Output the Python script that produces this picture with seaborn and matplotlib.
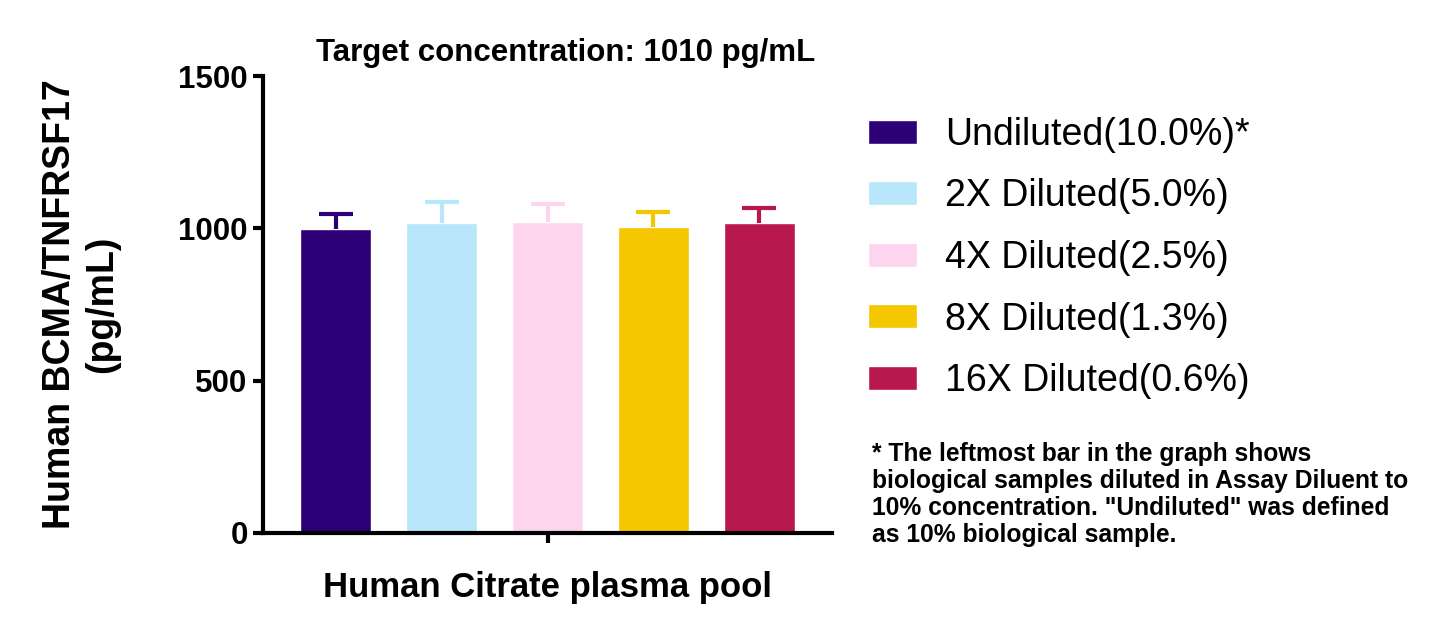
import matplotlib
matplotlib.use("Agg")
import matplotlib.pyplot as plt
import pandas as pd
import seaborn as sns

sample = ["Human Citrate plasma pool"]
dilutions = [
    "Undiluted(10.0%)*",
    "2X Diluted(5.0%)",
    "4X Diluted(2.5%)",
    "8X Diluted(1.3%)",
    "16X Diluted(0.6%)",
]
means = [998, 1017, 1021, 1003, 1017]
errors = [50, 71, 59, 52, 50]
colors = ["#2E0078", "#B8E6FA", "#FDD5EE", "#F5C700", "#B8184E"]

title = "Target concentration: 1010 pg/mL"
ylabel = "Human BCMA/TNFRSF17\n(pg/mL)"
footnote = ('* The leftmost bar in the graph shows\n'
            'biological samples diluted in Assay Diluent to\n'
            '10% concentration. "Undiluted" was defined\n'
            'as 10% biological sample.')

df = pd.DataFrame({"sample": sample * len(dilutions), "dilution": dilutions,
                   "value": means, "err": errors})

sns.set_theme(style="ticks")
plt.rcParams["font.family"] = ["Liberation Sans", "DejaVu Sans"]
plt.rcParams["text.color"] = "black"
plt.rcParams["axes.labelcolor"] = "black"
plt.rcParams["xtick.color"] = "black"
plt.rcParams["ytick.color"] = "black"

fig = plt.figure(figsize=(14.45, 6.35), dpi=100)
ax = fig.add_axes([263 / 1445, 1 - 533 / 635, (832 - 263) / 1445, (533 - 76) / 635])

sns.barplot(data=df, x="sample", y="value", hue="dilution", palette=colors,
            hue_order=dilutions, errorbar=None, width=0.8, gap=0.33,
            saturation=1, ax=ax)

# one-sided (upper) error bars in bar colour
for cont, m, e, c in zip(ax.containers, means, errors, colors):
    bar = cont[0]
    xc = bar.get_x() + bar.get_width() / 2
    _, caps, _ = ax.errorbar(xc, m, yerr=[[0], [e]], color=c, elinewidth=3,
                             capsize=12.5, capthick=3, zorder=1)
    caps[0].set_visible(False)

ax.set_ylim(0, 1500)
ax.set_yticks([0, 500, 1000, 1500])
ax.set_xlim(-0.43, 0.43)
ax.set_xlabel("")
ax.set_ylabel(ylabel, fontsize=27, fontweight="bold", labelpad=42)
ax.tick_params(axis="both", width=3, length=7, color="black", labelcolor="black")
ax.tick_params(axis="y", labelsize=22.5, pad=4)
ax.tick_params(axis="x", labelsize=25, pad=20)
for lab in ax.get_xticklabels() + ax.get_yticklabels():
    lab.set_fontweight("bold")
for side in ["left", "bottom"]:
    ax.spines[side].set_linewidth(3)
    ax.spines[side].set_color("black")
sns.despine(ax=ax)

fig.text(566 / 1445, 1 - 53 / 635, title, ha="center", va="center",
         fontsize=22.5, fontweight="bold")

handles, labels = ax.get_legend_handles_labels()
ax.legend(handles, labels, loc="upper left", bbox_to_anchor=(868 / 1445, 1 - 117 / 635),
          bbox_transform=fig.transFigure, frameon=False, fontsize=27,
          handlelength=1.3, handleheight=0.6, handletextpad=0.75,
          labelspacing=0.68, borderpad=0, borderaxespad=0)

fig.text(872 / 1445, 1 - 442 / 635, footnote, ha="left", va="top",
         fontsize=17.7, fontweight="bold", linespacing=1.15)

fig.savefig("out.png", dpi=100)
